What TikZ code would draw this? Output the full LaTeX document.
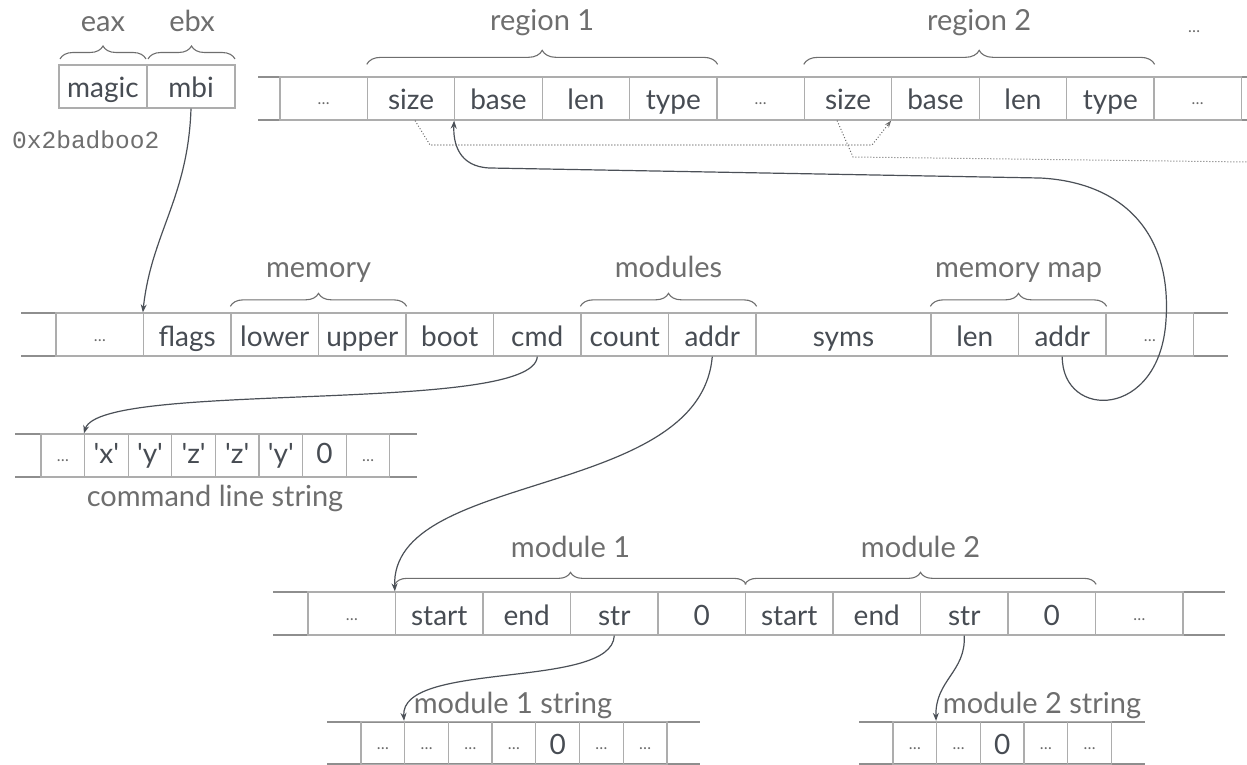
\documentclass[tikz,border=0pt]{standalone}
\usepackage{fontspec}
\setmainfont{Lato}
\newfontfamily\codefont{Liberation Mono}
\usetikzlibrary{arrows.meta,decorations.pathreplacing}
\definecolor{cellline}{HTML}{ADADAD}
\definecolor{rowline}{HTML}{8E8E8E}
\definecolor{celltext}{HTML}{474C53}
\definecolor{labeltext}{HTML}{6E6E6E}
\definecolor{ptrcol}{HTML}{4B5057}
\definecolor{bracecol}{HTML}{6E6E6E}
\definecolor{dotcol}{HTML}{6A6A6A}
\newcommand\chq{\textquotesingle}
\begin{document}
\begin{tikzpicture}[x=1pt,y=-1pt,
  cell/.style={draw=cellline, line width=1.3pt, inner sep=0pt,
    minimum width=#1, minimum height=43pt, text height=33pt, text depth=10pt,
    text=celltext, font=\fontsize{28}{32}\selectfont},
  cell/.default=87.5pt,
  dcell/.style={cell=#1, text height=28pt, text depth=15pt,
    text=dotcol, font=\fontsize{16}{18}\selectfont},
  dcell/.default=87.5pt,
  ccell/.style={cell=43.6pt, text height=29pt, text depth=14pt},
  cdcell/.style={dcell=43.6pt, text height=27pt, text depth=16pt},
  rail/.style={draw=rowline, line width=1.3pt},
  lbl/.style={inner sep=0pt, anchor=base, text=labeltext,
    font=\fontsize{29}{32}\selectfont},
  brc/.style={draw=bracecol, line width=1.1pt,
    decorate, decoration={brace, amplitude=#1}},
  brc/.default=13pt,
  ptr/.style={draw=ptrcol, line width=1.2pt, -{Stealth[length=8pt,width=6pt]}},
  dotln/.style={draw=dotcol, line width=1pt, dotted},
]
\useasboundingbox (0,0) rectangle (1247,765);

% ---- registers ----
\node[cell=88pt] (magic) at (103,86.5) {magic};
\node[cell=88pt] (mbi) at (191,86.5) {mbi};
\draw[brc] (60,59) -- (146,59);
\draw[brc] (148,59) -- (235,59);
\node[lbl] (eax) at (103,31.5) {eax};
\node[lbl] (ebx) at (192,31.5) {ebx};
\node[inner sep=0pt, anchor=base west, text=labeltext,
  font=\codefont\fontsize{24.5}{26}\selectfont] (magicval) at (12,148) {0x2badboo2};

% ---- memory map entries ----
\draw[rail] (258,77) -- (1247,77);
\draw[rail] (258,120) -- (1247,120);
\node[dcell] (reg-d0) at (323.7,98.5) {\ldots};
\node[cell=87.4pt] (reg1-size) at (411.1,98.5) {size};
\node[cell=87.4pt] (reg1-base) at (498.5,98.5) {base};
\node[cell=87.4pt] (reg1-len) at (585.9,98.5) {len};
\node[cell=87.4pt] (reg1-type) at (673.3,98.5) {type};
\node[dcell=87.4pt] (reg-d1) at (760.7,98.5) {\ldots};
\node[cell=87.4pt] (reg2-size) at (848.1,98.5) {size};
\node[cell=87.4pt] (reg2-base) at (935.5,98.5) {base};
\node[cell=87.4pt] (reg2-len) at (1022.9,98.5) {len};
\node[cell=87.4pt] (reg2-type) at (1110.3,98.5) {type};
\node[dcell=87.4pt] (reg-d2) at (1197.7,98.5) {\ldots};
\draw[brc=14pt] ([yshift=12pt]reg1-size.north west) -- ([yshift=12pt]reg1-type.north east);
\draw[brc=14pt] ([yshift=12pt]reg2-size.north west) -- ([yshift=12pt]reg2-type.north east);
\node[lbl] (reg1-lbl) at (542.2,31) {region 1};
\node[lbl] (reg2-lbl) at (979.2,31) {region 2};
\node[inner sep=0pt, text=dotcol, font=\fontsize{16}{18}\selectfont] (reg-more) at (1194,32) {\ldots};

% ---- multiboot info structure ----
\draw[rail] (21,313) -- (1228,313);
\draw[rail] (21,356) -- (1228,356);
\node[dcell] (mb-d0) at (99.75,334.5) {\ldots};
\node[cell] (flags) at (187.25,334.5) {flags};
\node[cell] (lower) at (274.75,334.5) {lower};
\node[cell] (upper) at (362.25,334.5) {upper};
\node[cell] (boot) at (449.75,334.5) {boot};
\node[cell] (cmd) at (537.25,334.5) {cmd};
\node[cell] (mcount) at (624.75,334.5) {count};
\node[cell] (maddr) at (712.25,334.5) {addr};
\node[cell=175pt] (syms) at (843.5,334.5) {syms};
\node[cell] (mm-len) at (974.75,334.5) {len};
\node[cell] (mm-addr) at (1062.25,334.5) {addr};
\node[dcell] (mb-d1) at (1149.75,334.5) {\ldots};
\draw[brc] ([yshift=6pt]lower.north west) -- ([yshift=6pt]upper.north east);
\draw[brc] ([yshift=6pt]mcount.north west) -- ([yshift=6pt]maddr.north east);
\draw[brc] ([yshift=6pt]mm-len.north west) -- ([yshift=6pt]mm-addr.north east);
\node[lbl] (mem-lbl) at (318.5,277) {memory};
\node[lbl] (mod-lbl) at (668.5,277) {modules};
\node[lbl] (map-lbl) at (1018.5,277) {memory map};

% ---- command line string ----
\draw[rail] (15,434) -- (417,434);
\draw[rail] (15,477) -- (417,477);
\node[cdcell] (cl-d0) at (62.8,455.5) {\ldots};
\node[ccell] (cl-x) at (106.4,455.5) {\chq x\chq};
\node[ccell] (cl-y1) at (150,455.5) {\chq y\chq};
\node[ccell] (cl-z1) at (193.6,455.5) {\chq z\chq};
\node[ccell] (cl-z2) at (237.2,455.5) {\chq z\chq};
\node[ccell] (cl-y2) at (280.8,455.5) {\chq y\chq};
\node[ccell] (cl-nul) at (324.4,455.5) {0};
\node[cdcell] (cl-d1) at (368,455.5) {\ldots};
\node[lbl] (cl-lbl) at (215,506) {command line string};

% ---- module list ----
\draw[rail] (273,592) -- (1225,592);
\draw[rail] (273,635) -- (1225,635);
\node[dcell] (md-d0) at (351.75,613.5) {\ldots};
\node[cell] (m1-start) at (439.25,613.5) {start};
\node[cell] (m1-end) at (526.75,613.5) {end};
\node[cell] (m1-str) at (614.25,613.5) {str};
\node[cell] (m1-nul) at (701.75,613.5) {0};
\node[cell] (m2-start) at (789.25,613.5) {start};
\node[cell] (m2-end) at (876.75,613.5) {end};
\node[cell] (m2-str) at (964.25,613.5) {str};
\node[cell] (m2-nul) at (1051.75,613.5) {0};
\node[dcell] (md-d1) at (1139.25,613.5) {\ldots};
\draw[brc=12pt] ([yshift=7pt]m1-start.north west) -- ([yshift=7pt]m1-nul.north east);
\draw[brc=12pt] ([yshift=7pt]m2-start.north west) -- ([yshift=7pt]m2-nul.north east);
\node[lbl] (m1-lbl) at (570.5,557) {module 1};
\node[lbl] (m2-lbl) at (920.5,557) {module 2};

% ---- module strings ----
\draw[rail] (327,722) -- (700,722);
\draw[rail] (327,764) -- (700,764);
\node[dcell=43.7pt] (s1-0) at (382.85,743) {\ldots};
\node[dcell=43.7pt] (s1-1) at (426.55,743) {\ldots};
\node[dcell=43.7pt] (s1-2) at (470.25,743) {\ldots};
\node[dcell=43.7pt] (s1-3) at (513.95,743) {\ldots};
\node[cell=43.7pt] (s1-nul) at (557.65,743) {0};
\node[dcell=43.7pt] (s1-5) at (601.35,743) {\ldots};
\node[dcell=43.7pt] (s1-6) at (645.05,743) {\ldots};
\node[lbl] (s1-lbl) at (513,713) {module 1 string};

\draw[rail] (859,722) -- (1145,722);
\draw[rail] (859,764) -- (1145,764);
\node[dcell=43.7pt] (s2-0) at (914.85,743) {\ldots};
\node[dcell=43.7pt] (s2-1) at (958.55,743) {\ldots};
\node[cell=43.7pt] (s2-nul) at (1002.25,743) {0};
\node[dcell=43.7pt] (s2-3) at (1045.95,743) {\ldots};
\node[dcell=43.7pt] (s2-4) at (1089.65,743) {\ldots};
\node[lbl] (s2-lbl) at (1042,713) {module 2 string};

% ---- pointers ----
\draw[ptr] (mbi.south) .. controls (188,198) and (151.5,233) .. (flags.north west);
\draw[ptr] (cmd.south) .. controls (534,415) and (100,380) .. (cl-x.north west);
\draw[ptr] (maddr.south) .. controls (700,500) and (390,470) .. (m1-start.north west);
\draw[ptr] (m1-str.south) .. controls (612,690) and (400,660) .. (s1-1.north west);
\draw[ptr] (m2-str.south) .. controls (966,672) and (935,680) .. (s2-1.north west);
\draw[ptr] (mm-addr.south) .. controls (1062,420) and (1160,420) .. (1166,320)
  .. controls (1172,230) and (1120,182) .. (1040,178) -- (490,168)
  .. controls (458,167) and (453,142) .. (reg1-base.south west);

% ---- next-entry links ----
\draw[dotln, -{Stealth[length=7pt,width=5pt]}] ([xshift=4pt]reg1-size.south)
  -- (430,145) -- (872,145) -- (reg2-base.south west);
\coordinate (offright) at (1247,162);
\draw[dotln] ([xshift=-11pt]reg2-size.south) -- (853,157) -- (offright);
\end{tikzpicture}
\end{document}
